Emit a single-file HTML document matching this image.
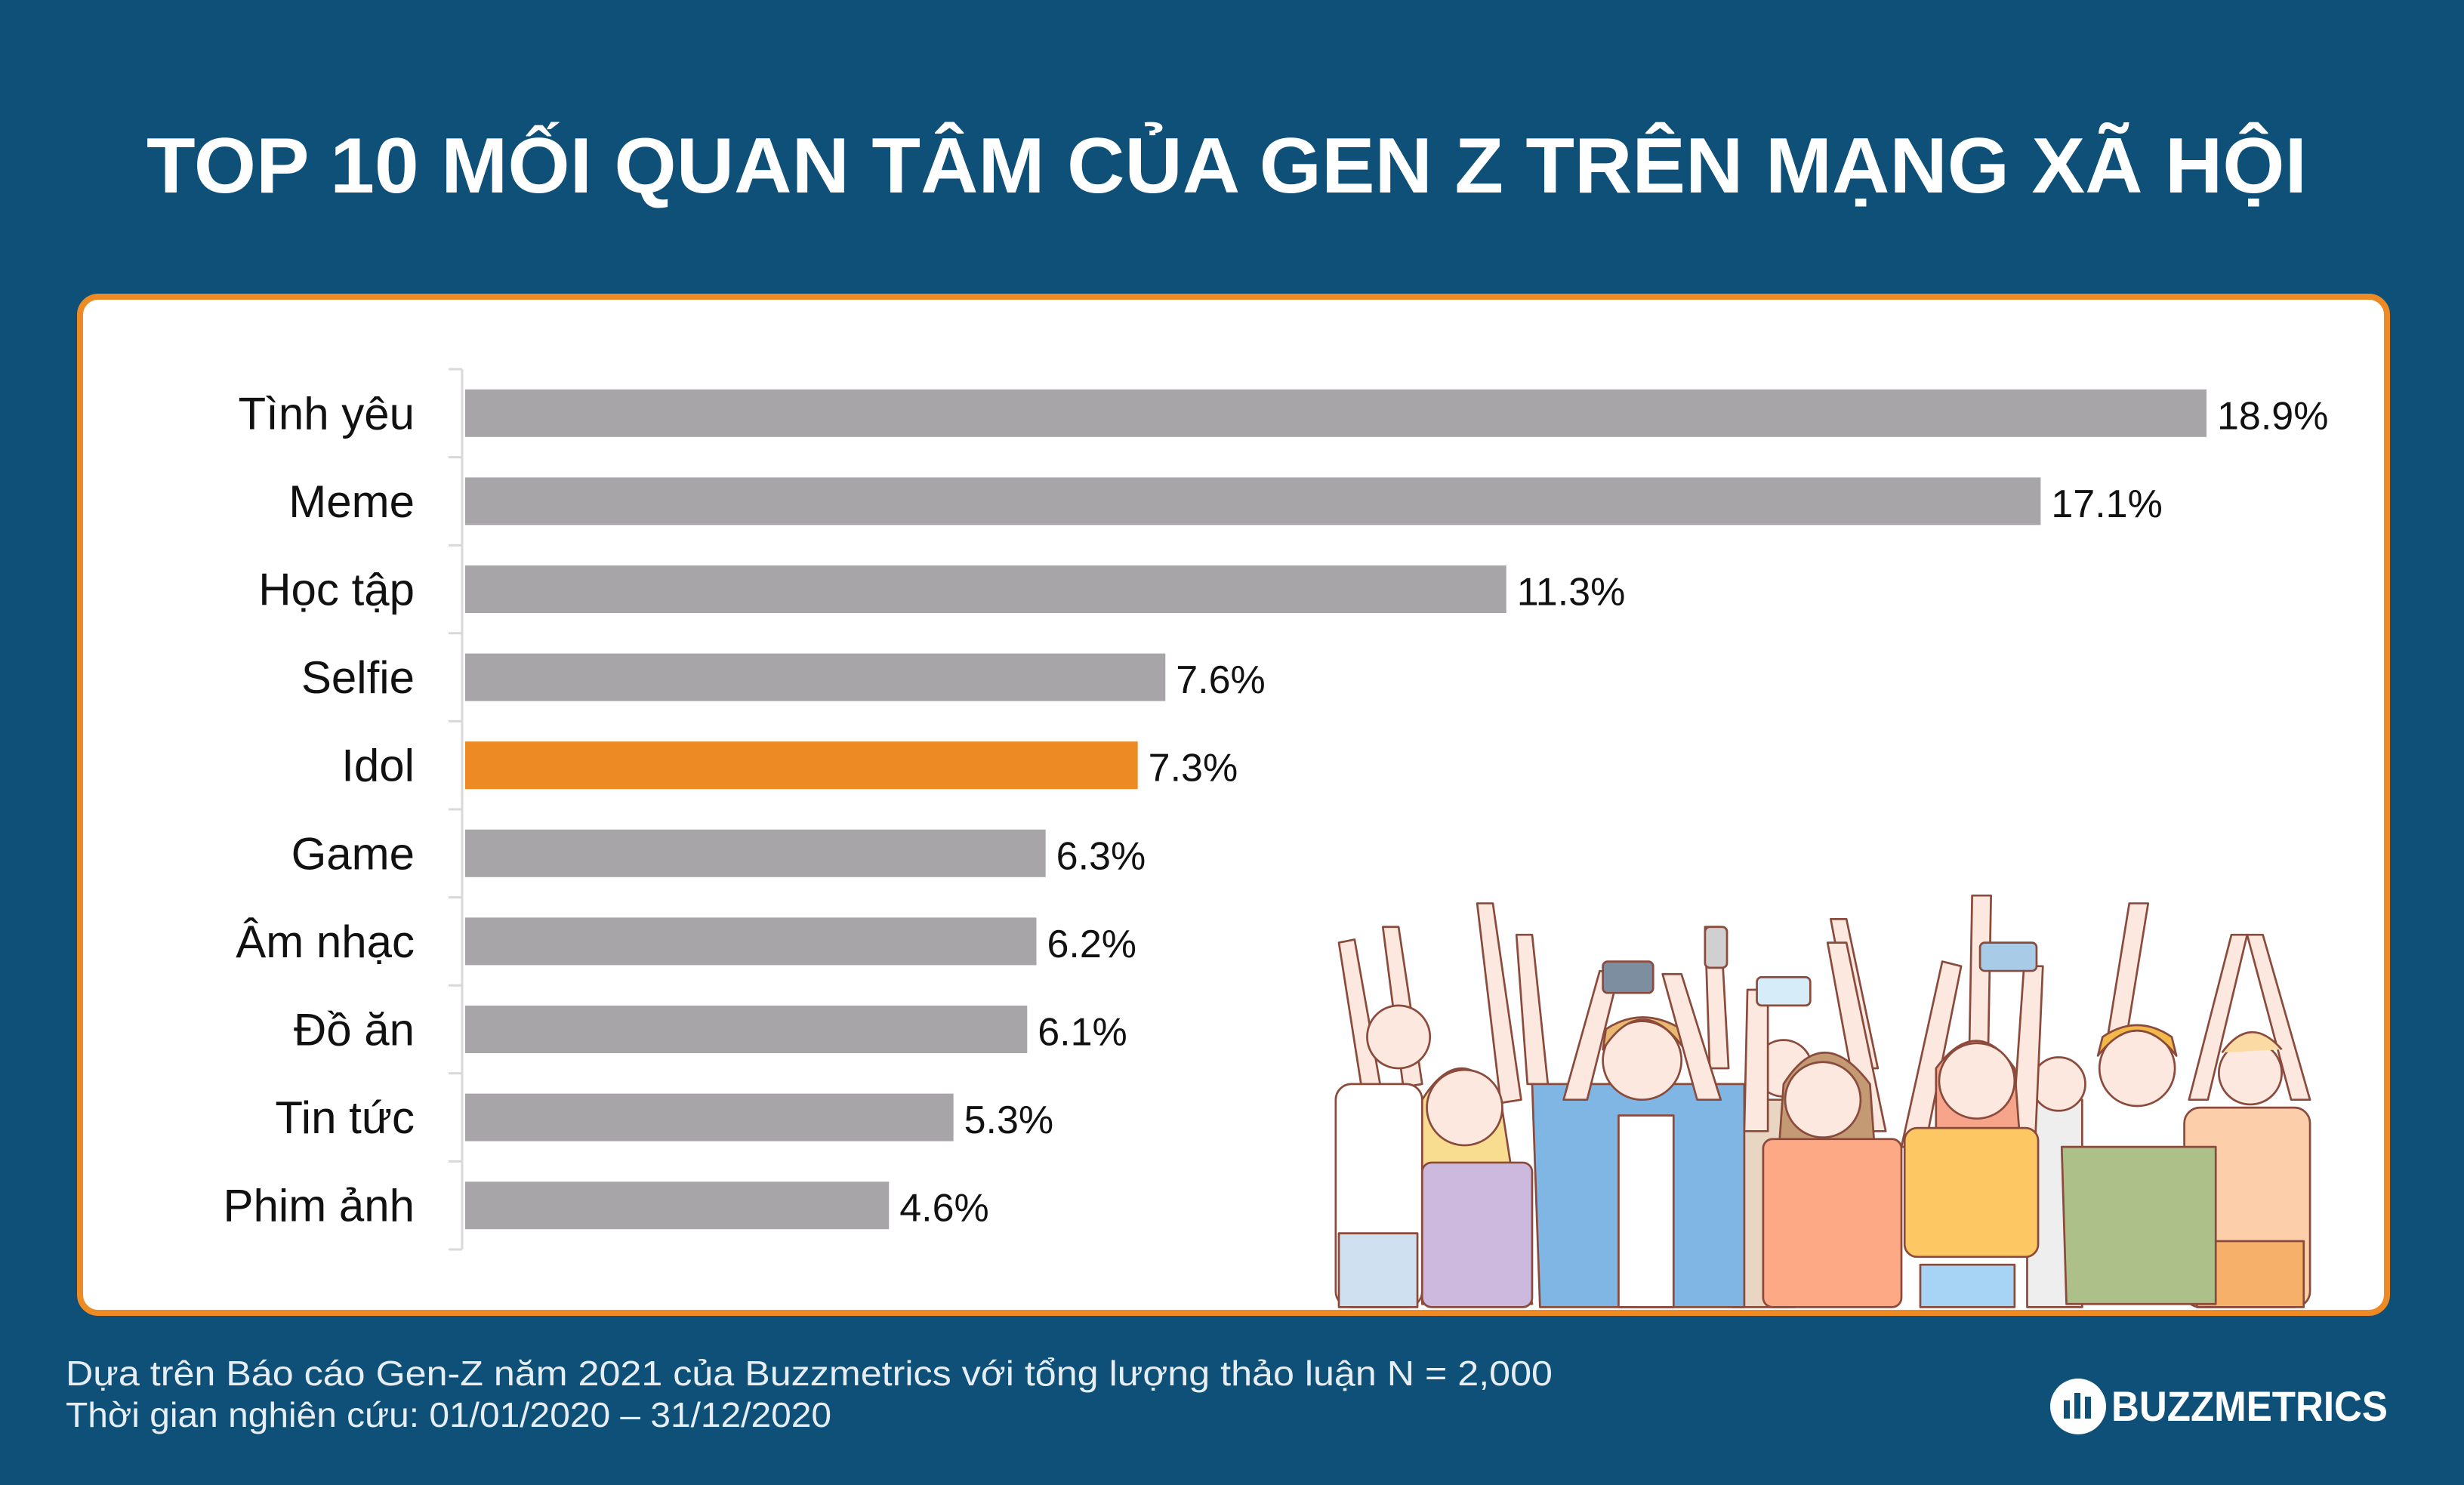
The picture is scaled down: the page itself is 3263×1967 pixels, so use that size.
<!DOCTYPE html>
<html><head><meta charset="utf-8"><style>
html,body{margin:0;padding:0;background:#0f5078;}
svg{display:block;}
text{font-family:"Liberation Sans",sans-serif;}
</style></head>
<body>
<svg id="page" width="3263" height="1967" viewBox="0 0 3263 1967" xmlns="http://www.w3.org/2000/svg">
<rect x="0" y="0" width="3263" height="1967" fill="#0f5078"/>
<text x="194" y="255" font-size="104" font-weight="bold" fill="#ffffff" textLength="2861" lengthAdjust="spacingAndGlyphs">TOP 10 MỐI QUAN TÂM CỦA GEN Z TRÊN MẠNG XÃ HỘI</text>
<rect x="106" y="393" width="3055" height="1346" rx="24" fill="#ffffff" stroke="#ee8a24" stroke-width="8"/>
<g id="crowd" transform="scale(2.081)" stroke="#8a4a3c" stroke-width="1.3" stroke-linejoin="round">
  <g fill="#fde8e0">
    <path d="M852,600 L862,598 L880,700 L868,702 Z"/>
    <path d="M880,590 L890,590 L905,690 L893,692 Z"/>
    <path d="M940,575 L950,575 L968,700 L955,702 Z"/>
    <path d="M965,595 L975,595 L985,690 L972,690 Z"/>
    <path d="M1085,590 L1095,590 L1100,680 L1088,680 Z"/>
    <path d="M1165,585 L1175,585 L1195,680 L1183,680 Z"/>
    <path d="M1255,570 L1267,570 L1265,680 L1253,680 Z"/>
    <path d="M1355,575 L1367,575 L1350,680 L1338,680 Z"/>
    <path d="M1420,595 L1430,595 L1405,700 L1393,700 Z"/>
    <path d="M1430,595 L1440,595 L1470,700 L1458,700 Z"/>
  </g>
  <rect x="850" y="690" width="55" height="142" rx="10" fill="#ffffff"/>
  <rect x="852" y="785" width="50" height="47" fill="#cfe0f0"/>
  <circle cx="890" cy="660" r="20" fill="#fde8e0"/>
  <rect x="1102" y="700" width="40" height="132" fill="#e8d6c2"/>
  <circle cx="1135" cy="680" r="18" fill="#fde8e0"/>
  <rect x="1290" y="700" width="35" height="132" fill="#eee"/>
  <circle cx="1310" cy="690" r="17" fill="#fde8e0"/>
  <rect x="1390" y="705" width="80" height="127" rx="10" fill="#fccfaa"/>
  <rect x="1398" y="790" width="68" height="42" fill="#f6b06a"/>
  <circle cx="1432" cy="683" r="20" fill="#fde8e0"/>
  <path d="M1414,670 Q1432,645 1452,668" fill="#fbdba3"/>
  <path d="M905,700 Q930,660 955,700 L975,830 L905,830 Z" fill="#f8dc90"/>
  <rect x="905" y="740" width="70" height="92" rx="6" fill="#cdb9dd"/>
  <circle cx="932" cy="705" r="24" fill="#fde8e0"/>
  <path d="M975,690 L1110,690 L1110,832 L980,832 Z" fill="#80b6e4"/>
  <rect x="1030" y="710" width="35" height="122" fill="#ffffff"/>
  <circle cx="1045" cy="675" r="25" fill="#fde8e0"/>
  <path d="M1020,668 Q1045,630 1072,668 L1070,655 Q1045,640 1022,655 Z" fill="#e9b870"/>
  <g fill="#fde8e0">
    <path d="M995,700 L1010,700 L1030,620 L1018,618 Z"/>
    <path d="M1080,700 L1095,700 L1070,620 L1058,620 Z"/>
    <path d="M1110,720 L1125,720 L1125,630 L1112,630 Z"/>
    <path d="M1185,720 L1200,720 L1175,600 L1163,600 Z"/>
    <path d="M1210,730 L1225,730 L1248,615 L1236,612 Z"/>
    <path d="M1280,730 L1295,730 L1300,615 L1288,615 Z"/>
  </g>
  <rect x="1020" y="612" width="32" height="20" rx="3" fill="#7d8ea0"/>
  <rect x="1118" y="622" width="34" height="18" rx="3" fill="#d6ecf8"/>
  <rect x="1260" y="600" width="36" height="18" rx="3" fill="#a8cce8"/>
  <rect x="1085" y="590" width="14" height="26" rx="3" fill="#d0d0d0"/>
  <path d="M1135,690 Q1160,650 1190,690 L1195,760 L1130,760 Z" fill="#c49a74"/>
  <rect x="1122" y="725" width="88" height="107" rx="6" fill="#fea986"/>
  <circle cx="1160" cy="700" r="24" fill="#fde8e0"/>
  <path d="M1232,680 Q1258,645 1282,680 L1285,720 L1232,720 Z" fill="#f6a48a"/>
  <rect x="1212" y="718" width="85" height="82" rx="8" fill="#fdc763"/>
  <rect x="1222" y="805" width="60" height="27" fill="#a7d4f4"/>
  <circle cx="1258" cy="688" r="24" fill="#fde8e0"/>
  <path d="M1312,730 L1410,730 L1410,830 L1315,830 Z" fill="#adc08a"/>
  <circle cx="1360" cy="680" r="24" fill="#fde8e0"/>
  <path d="M1335,672 Q1360,640 1385,672 L1382,660 Q1360,645 1338,660 Z" fill="#f2b84a"/>
</g>
<g id="chart"></g>
<text x="87" y="1835" font-size="46" fill="#e6eef4" textLength="1969" lengthAdjust="spacingAndGlyphs">Dựa trên Báo cáo Gen-Z năm 2021 của Buzzmetrics với tổng lượng thảo luận N = 2,000</text>
<text x="87" y="1890" font-size="46" fill="#e6eef4" textLength="1014" lengthAdjust="spacingAndGlyphs">Thời gian nghiên cứu: 01/01/2020 – 31/12/2020</text>
<g>
  <circle cx="2752" cy="1863" r="37" fill="#ffffff"/>
  <rect x="2733" y="1855" width="8" height="24" fill="#0f5078"/>
  <rect x="2747" y="1845" width="8" height="34" fill="#0f5078"/>
  <rect x="2761" y="1850" width="8" height="29" fill="#0f5078"/>
  <text x="2796" y="1882" font-size="56" font-weight="bold" fill="#ffffff" textLength="366" lengthAdjust="spacingAndGlyphs">BUZZMETRICS</text>
</g>
</svg>
<script>
const categories = ["Tình yêu","Meme","Học tập","Selfie","Idol","Game","Âm nhạc","Đồ ăn","Tin tức","Phim ảnh"];
const values = [18.9,17.1,11.3,7.6,7.3,6.3,6.2,6.1,5.3,4.6];
const valueLabels = ["18.9%","17.1%","11.3%","7.6%","7.3%","6.3%","6.2%","6.1%","5.3%","4.6%"];
const highlight = ["Idol"];

const NS = "http://www.w3.org/2000/svg";
const g = document.getElementById("chart");
const x0 = 616, pxPer = (2922 - 616) / 18.9;
const axisTop = 489, band = 116.6, barH = 63;
function xScale(v){ return x0 + v * pxPer; }
function yCenter(i){ return axisTop + band * (i + 0.5); }
function mk(tag, attrs){ const e = document.createElementNS(NS, tag); for (const k in attrs) e.setAttribute(k, attrs[k]); return e; }

const axis = mk("line", {x1:612, y1:axisTop, x2:612, y2:axisTop + band*categories.length, stroke:"#d9d9d9", "stroke-width":3});


g.appendChild(axis);
for (let i = 0; i <= categories.length; i++) {
  const t = mk("line", {x1:594, y1:axisTop + band*i, x2:612, y2:axisTop + band*i, stroke:"#d9d9d9", "stroke-width":3});
  
  
  g.appendChild(t);
}
categories.forEach((c, i) => {
  const cy = yCenter(i);
  const r = mk("rect", {x:x0, y:cy - barH/2, width:xScale(values[i]) - x0, height:barH, fill: highlight.includes(c) ? "#ee8a24" : "#a7a5a8"});
  
  
  g.appendChild(r);
  const lab = mk("text", {x:549, y:cy + 21, "font-size":60, fill:"#111", "text-anchor":"end"});
  lab.textContent = c;
  
  
  g.appendChild(lab);
  const vl = mk("text", {x:xScale(values[i]) + 14, y:cy + 21, "font-size":52, fill:"#111"});
  vl.textContent = valueLabels[i];
  
  
  g.appendChild(vl);
});
</script>
</body></html>
